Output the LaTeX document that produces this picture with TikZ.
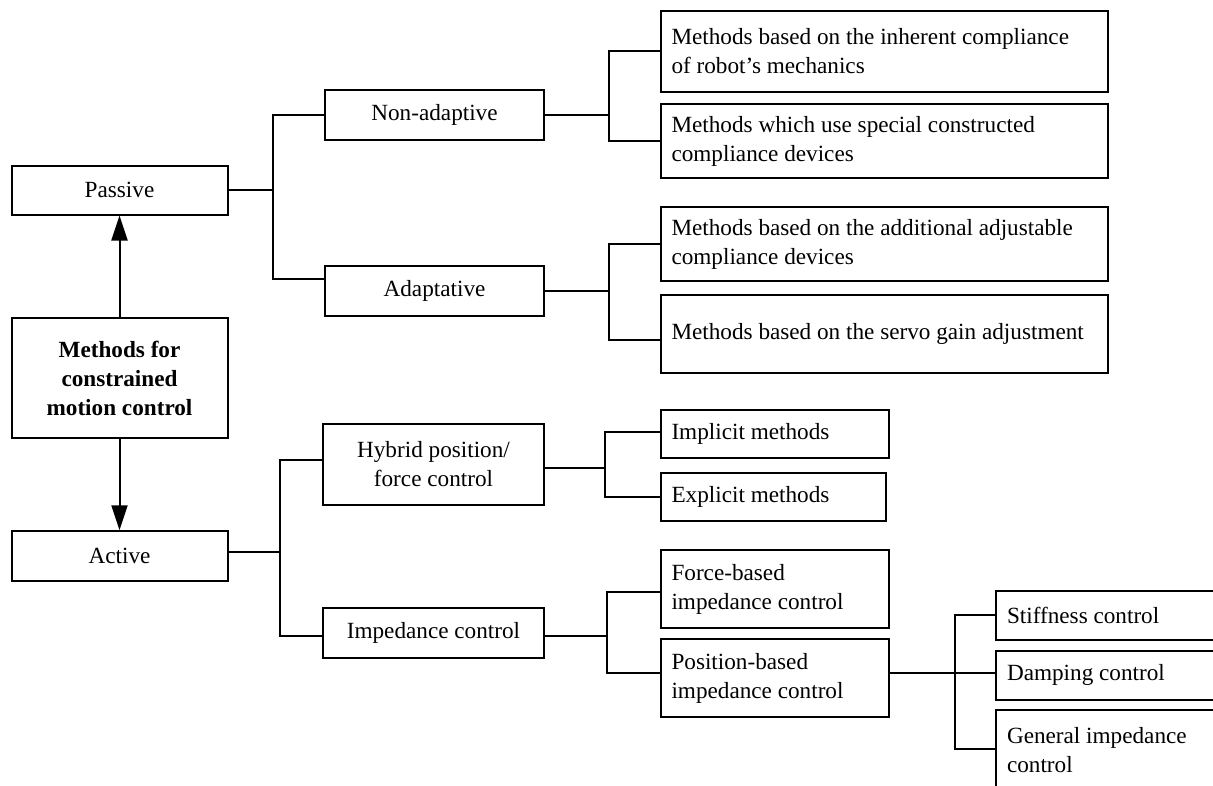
\documentclass[tikz,border=0pt]{standalone}
\usepackage{fontspec}
\setmainfont{Liberation Serif}
\usetikzlibrary{arrows.meta}
\tikzset{
  bx/.style={draw, line width=2pt, rectangle, inner sep=0pt,
             font=\fontsize{23.2}{29}\selectfont},
  lbox/.style={bx, align=flush left},
  cbox/.style={bx, align=center},
  ln/.style={line width=2pt},
  arr/.style={line width=2pt, -{Triangle[length=25pt,width=16pt]}},
}
\begin{document}
\begin{tikzpicture}[x=1pt,y=-1pt]
\useasboundingbox (0,0) rectangle (1213,785);
\clip (0,0) rectangle (1213,785);
% level 0 / 1
\node[cbox, minimum width=216pt, minimum height=49pt] (passive) at (119.5,190) {Passive};
\node[cbox, minimum width=216pt, minimum height=120pt, font=\fontsize{23.2}{29}\selectfont\bfseries] (main) at (119.5,378) {Methods for\\constrained\\motion control};
\node[cbox, minimum width=216pt, minimum height=49.5pt] (active) at (119.5,556) {Active};
% level 2
\node[cbox, minimum width=219pt, minimum height=50pt] (nonad) at (434.5,115) {Non-adaptive};
\node[cbox, minimum width=219pt, minimum height=50pt] (adapt) at (434.5,291) {Adaptative};
\node[cbox, minimum width=221pt, minimum height=81pt] (hybrid) at (433.5,464.5) {Hybrid position/\\force control};
\node[cbox, minimum width=221pt, minimum height=50pt] (imped) at (433.5,633) {Impedance control};
% level 3
\node[lbox, minimum width=447pt, minimum height=81pt, text width=426pt] (b1) at (884.5,51) {Methods based on the inherent compliance\\of robot’s mechanics};
\node[lbox, minimum width=447pt, minimum height=73.7pt, text width=426pt] (b2) at (884.5,141) {Methods which use special constructed\\compliance devices};
\node[lbox, minimum width=447pt, minimum height=74.5pt, text width=426pt] (b3) at (884.5,244) {Methods based on the additional adjustable\\compliance devices};
\node[lbox, minimum width=447pt, minimum height=77.4pt, text width=426pt] (b4) at (884.5,334) {Methods based on the servo gain adjustment};
\node[lbox, minimum width=228pt, minimum height=48.3pt, text width=207pt] (impl) at (775,434) {Implicit methods};
\node[lbox, minimum width=225pt, minimum height=48.2pt, text width=204pt] (expl) at (773.5,497) {Explicit methods};
\node[lbox, minimum width=228pt, minimum height=77.5pt, text width=207pt] (force) at (775,589) {Force-based\\impedance control};
\node[lbox, minimum width=228pt, minimum height=77.2pt, text width=207pt] (posb) at (775,678) {Position-based\\impedance control};
% level 4
\node[lbox, minimum width=244pt, minimum height=49pt, text width=222pt] (stiff) at (1118,615) {Stiffness control};
\node[lbox, minimum width=244pt, minimum height=49pt, text width=222pt] (damp) at (1118,675) {Damping control};
\node[lbox, minimum width=244pt, minimum height=80pt, text width=222pt] (gen) at (1118,750) {General impedance\\control};
% trunk positions
\coordinate (t1) at (273,0);
\coordinate (t2) at (609,0);
\coordinate (t3) at (609,0);
\coordinate (t4) at (280,0);
\coordinate (t5) at (605,0);
\coordinate (t6) at (607,0);
\coordinate (t7) at (955,0);
% arrows
\draw[arr] (main.north) -- (passive.south);
\draw[arr] (main.south) -- (active.north);
% passive tree
\draw[ln] (passive.east) -- (passive.east -| t1);
\draw[ln] (nonad.west) -- (nonad.west -| t1) -- ([yshift=12pt]adapt.west -| t1) -- ([yshift=12pt]adapt.west);
\draw[ln] (nonad.east) -- (nonad.east -| t2);
\draw[ln] (b1.west) -- (b1.west -| t2) -- (b2.west -| t2) -- (b2.west);
\draw[ln] (adapt.east) -- (adapt.east -| t3);
\draw[ln] (b3.west) -- (b3.west -| t3) -- ([yshift=-6pt]b4.west -| t3) -- ([yshift=-6pt]b4.west);
% active tree
\draw[ln] ([yshift=4pt]active.east) -- ([yshift=4pt]active.east -| t4);
\draw[ln] ([yshift=4.5pt]hybrid.west) -- ([yshift=4.5pt]hybrid.west -| t4) -- ([yshift=-3pt]imped.west -| t4) -- ([yshift=-3pt]imped.west);
\draw[ln] ([yshift=-3.5pt]hybrid.east) -- ([yshift=-3.5pt]hybrid.east -| t5);
\draw[ln] ([yshift=2pt]impl.west) -- ([yshift=2pt]impl.west -| t5) -- (expl.west -| t5) -- (expl.west);
\draw[ln] ([yshift=-3pt]imped.east) -- ([yshift=-3pt]imped.east -| t6);
\draw[ln] ([yshift=-3pt]force.west) -- ([yshift=-3pt]force.west -| t6) -- ([yshift=5pt]posb.west -| t6) -- ([yshift=5pt]posb.west);
\draw[ln] ([yshift=5pt]posb.east) -- ([yshift=5pt]posb.east -| t7);
\draw[ln] (stiff.west) -- (stiff.west -| t7) -- ([yshift=1pt]gen.west -| t7) -- ([yshift=1pt]gen.west);
\draw[ln] ([yshift=2pt]damp.west) -- ([yshift=2pt]damp.west -| t7);
\end{tikzpicture}
\end{document}
